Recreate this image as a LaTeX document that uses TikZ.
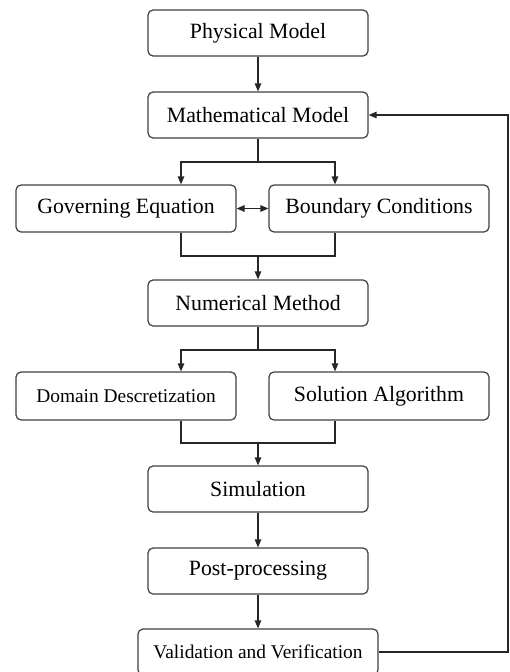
\documentclass[tikz,border=0pt]{standalone}
\usepackage{fontspec}
\setmainfont{Liberation Serif}
\usetikzlibrary{arrows.meta}
\begin{document}
\begin{tikzpicture}[x=1pt,y=-1pt,
  box/.style={draw=black!75, line width=1.2pt, rounded corners=5pt, fill=white,
    minimum width=220pt, minimum height=46pt, inner sep=0pt,
    font=\fontsize{21.8}{26}\selectfont},
  smallbox/.style={box, font=\fontsize{19.4}{23}\selectfont},
  link/.style={draw=black!85, line width=1.2pt},
  arr/.style={link, -{Triangle[length=8pt,width=6.5pt]}},
  arrboth/.style={link, {Triangle[length=8pt,width=6.5pt]}-{Triangle[length=8pt,width=6.5pt]}}]
  \useasboundingbox (0,0) rectangle (510,672);
  \clip (0,0) rectangle (510,672);

  % main chain
  \node[box] (pm) at (258,33) {Physical Model};
  \node[box] (mm) at (258,115) {Mathematical Model};
  \node[box, minimum height=47pt] (ge) at (126,208.5) {Governing Equation};
  \node[box, minimum height=47pt] (bc) at (379,208.5) {Boundary Conditions};
  \node[box] (nm) at (258,303) {Numerical Method};
  \node[smallbox, minimum height=48pt] (dd) at (126,396) {Domain Descretization};
  \node[box, minimum height=48pt] (sa) at (379,396) {Solution Algorithm};
  \node[box] (sim) at (258,489) {Simulation};
  \node[box] (pp) at (258,571) {Post-processing};
  \node[smallbox, minimum width=240pt] (vv) at (258,652) {Validation and Verification};

  % branch columns, split and join points
  \coordinate (lx) at (181,0);
  \coordinate (rx) at (335,0);
  \coordinate (s1) at (258,162);
  \coordinate (j1) at (258,256);
  \coordinate (s2) at (258,350);
  \coordinate (j2) at (258,443);
  \coordinate (fb) at (508,652);

  \draw[arr] (pm) -- (mm);
  \draw[link] (mm.south) -- (s1);
  \draw[arr] (s1) -| (lx |- ge.north);
  \draw[arr] (s1) -| (rx |- bc.north);
  \draw[arrboth] (ge.east) -- (bc.west);
  \draw[link] (lx |- ge.south) |- (j1);
  \draw[link] (rx |- bc.south) |- (j1);
  \draw[arr] (j1) -- (nm.north);

  \draw[link] (nm.south) -- (s2);
  \draw[arr] (s2) -| (lx |- dd.north);
  \draw[arr] (s2) -| (rx |- sa.north);
  \draw[link] (lx |- dd.south) |- (j2);
  \draw[link] (rx |- sa.south) |- (j2);
  \draw[arr] (j2) -- (sim.north);

  \draw[arr] (sim) -- (pp);
  \draw[arr] (pp) -- (vv);

  % feedback loop
  \draw[arr] (vv.east) -- (fb) |- (mm.east);
\end{tikzpicture}
\end{document}
